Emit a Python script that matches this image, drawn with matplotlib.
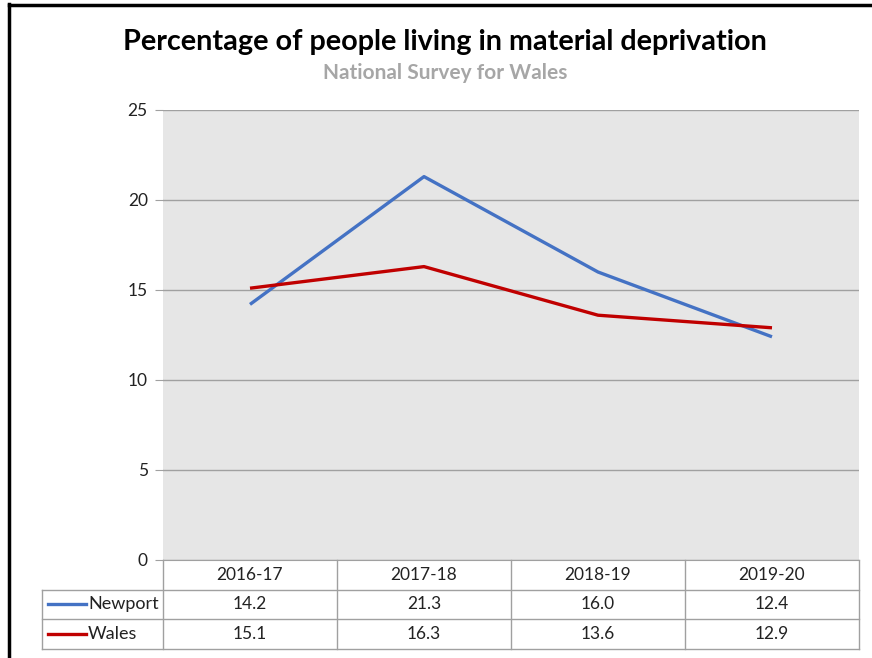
import matplotlib.pyplot as plt
from matplotlib.lines import Line2D

plt.rcParams['font.family'] = ['Lato', 'DejaVu Sans']

years = ['2016-17', '2017-18', '2018-19', '2019-20']
newport = [14.2, 21.3, 16.0, 12.4]
wales = [15.1, 16.3, 13.6, 12.9]
series_names = ['Newport', 'Wales']
series_colors = ['#4472c4', '#c00000']

W, H = 872, 658
fig = plt.figure(figsize=(W / 100, H / 100), dpi=100)
fig.patch.set_facecolor('white')

# plot area in pixels
left, top, right, bottom = 163, 110, 859, 560
ax = fig.add_axes([left / W, 1 - bottom / H, (right - left) / W, (bottom - top) / H])
ax.set_facecolor('#e6e6e6')

x = list(range(len(years)))
for vals, col in zip([newport, wales], series_colors):
    ax.plot(x, vals, color=col, lw=2.4, solid_capstyle='butt')

ax.set_xlim(-0.5, len(years) - 0.5)
ax.set_ylim(0, 25)
ax.set_yticks([0, 5, 10, 15, 20, 25])
ax.set_xticks([])
ax.grid(axis='y', color='#a0a0a0', lw=1)
ax.set_axisbelow(True)
for s in ['top', 'right', 'left']:
    ax.spines[s].set_visible(False)
ax.spines['bottom'].set_color('#a0a0a0')
ax.tick_params(axis='y', length=6, color='#a0a0a0', labelsize=12.5, pad=5, labelcolor='#222222')

# data table under the plot
ph = bottom - top
row_h = 29.5 / ph
gray = '#a0a0a0'
lg_left = (42 - left) / (right - left)
kw = dict(transform=ax.transAxes, clip_on=False, color=gray, lw=1)
for i in range(len(years) + 1):
    ax.add_line(Line2D([i / len(years)] * 2, [0, -3 * row_h], **kw))
ax.add_line(Line2D([lg_left] * 2, [-row_h, -3 * row_h], **kw))
for r in range(1, 4):
    ax.add_line(Line2D([lg_left, 1], [-r * row_h] * 2, **kw))

xt = ax.get_xaxis_transform()
for i, yr in enumerate(years):
    ax.text(i, -0.5 * row_h, yr, transform=xt, ha='center', va='center', fontsize=12.5, color='#222222')
for r, (name, col, vals) in enumerate(zip(series_names, series_colors, [newport, wales])):
    yc = -(r + 1.5) * row_h
    for i, v in enumerate(vals):
        ax.text(i, yc, f'{v:.1f}', transform=xt, ha='center', va='center', fontsize=12.5, color='#222222')
    x0 = (48 - left) / (right - left)
    x1 = (86 - left) / (right - left)
    ax.add_line(Line2D([x0, x1], [yc, yc], transform=ax.transAxes, clip_on=False, color=col, lw=2.4))
    ax.text((88 - left) / (right - left), yc, name, transform=ax.transAxes, ha='left', va='center',
            fontsize=13, color='#222222')

fig.text(445 / W, 1 - 42 / H, 'Percentage of people living in material deprivation', ha='center', va='center',
         fontsize=20.7, fontweight='bold', color='black')
fig.text(445 / W, 1 - 73 / H, 'National Survey for Wales', ha='center', va='center',
         fontsize=15, fontweight='bold', color='#a6a6a6')

# outer frame (left and top edges)
fig.add_artist(Line2D([9 / W, 9 / W], [0, 1 - 4 / H], transform=fig.transFigure, color='black', lw=2.5))
fig.add_artist(Line2D([9 / W, 1], [1 - 5 / H, 1 - 5 / H], transform=fig.transFigure, color='black', lw=2.5))

fig.savefig('out.png', dpi=100)
